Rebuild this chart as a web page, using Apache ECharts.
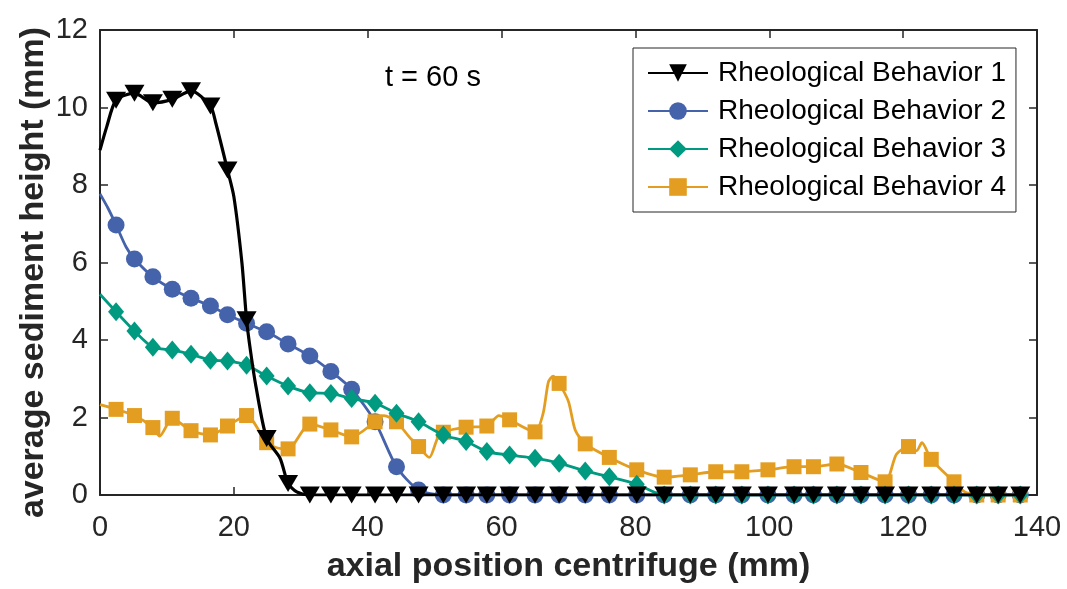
<!DOCTYPE html>
<html>
<head>
<meta charset="utf-8">
<title>Sediment height t = 60 s</title>
<script src="https://cdn.jsdelivr.net/npm/echarts@6/dist/echarts.min.js"></script>
<style>
  html, body { margin: 0; padding: 0; background: #fff; }
  #chart { width: 1067px; height: 589px; }
</style>
</head>
<body>
<div id="chart"></div>
<script>
// axial positions (mm) where the markers sit, shared by all four curves
const xGrid = [2.4, 5.15, 7.9, 10.8, 13.6, 16.5, 19.05, 21.9, 24.9, 28.1, 31.35, 34.5, 37.6, 41.1,
  44.3, 47.6, 51.3, 54.7, 57.8, 61.2, 65.0, 68.6, 72.5, 76.1, 80.2, 84.3, 88.2, 92.0, 95.9, 99.8,
  103.7, 106.6, 110.1, 113.7, 117.3, 120.8, 124.2, 127.6, 131.0, 134.2, 137.5]

const seriesNames = ['Rheological Behavior 1', 'Rheological Behavior 2', 'Rheological Behavior 3', 'Rheological Behavior 4']

// sediment height (mm) at the markers
const b1 = [10.19, 10.37, 10.12, 10.21, 10.43, 10.04, 8.39, 4.52, 1.46, 0.30,
  0, 0, 0, 0, 0, 0, 0, 0, 0, 0, 0, 0, 0, 0, 0, 0, 0, 0, 0, 0, 0, 0, 0, 0, 0, 0, 0, 0, 0, 0, 0]
const b2 = [6.97, 6.09, 5.63, 5.31, 5.08, 4.88, 4.65, 4.43, 4.21, 3.90, 3.59, 3.19, 2.73, 1.89, 0.73, 0.13,
  0, 0, 0, 0, 0, 0, 0, 0, 0, 0, 0, 0, 0, 0, 0, 0, 0, 0, 0, 0, 0, 0, 0, 0, 0]
const b3 = [4.73, 4.23, 3.81, 3.74, 3.63, 3.48, 3.46, 3.35, 3.07, 2.81, 2.64, 2.62, 2.49, 2.37, 2.11, 1.89,
  1.55, 1.38, 1.12, 1.03, 0.95, 0.82, 0.62, 0.47, 0.28,
  0, 0, 0, 0, 0, 0, 0, 0, 0, 0, 0, 0, 0, 0, 0, 0]
const b4 = [2.21, 2.05, 1.74, 1.98, 1.66, 1.55, 1.78, 2.05, 1.35, 1.19, 1.83, 1.68, 1.50, 1.89, 1.89, 1.25,
  1.62, 1.75, 1.78, 1.94, 1.63, 2.88, 1.32, 0.97, 0.65, 0.46, 0.52, 0.60, 0.60, 0.65, 0.73, 0.73,
  0.80, 0.58, 0.34, 1.25, 0.92, 0.34, 0, 0, 0]

// curve points between the markers (no marker drawn)
const b1Extra = [[0, 8.9], [1.0, 9.5], [17.3, 9.6], [20.0, 7.7], [21.2, 6.0], [22.5, 3.7], [23.3, 2.8], [26.9, 0.95], [29.4, 0.08]]
const b2Extra = [[0, 7.77], [1.2, 7.4], [3.9, 6.4]]
const b3Extra = [[0, 5.18]]
const b4Extra = [[0, 2.33], [8.9, 1.52], [26.4, 1.22], [42.4, 2.05], [46.2, 1.5], [49.2, 0.97], [50.4, 1.45],
  [59.6, 2.05], [66.2, 2.1], [67.0, 2.92], [67.7, 3.07], [70.0, 2.41], [71.0, 1.68],
  [119.0, 1.05], [122.0, 1.14], [122.8, 1.35], [129.2, 0.08]]

const FONT = '"Liberation Sans", Arial, Helvetica, sans-serif'
const AXIS_COLOR = '#262626'

// merge marker points and in-between points into one sorted list
const buildData = (marks, extra) => {
  const pts = xGrid.map((x, i) => ({ value: [x, marks[i]] }))
  extra.forEach(p => pts.push({ value: p, symbol: 'none' }))
  pts.sort((a, b) => a.value[0] - b.value[0])
  return pts
}

const makeSeries = (idx, marks, extra, color, symbol, size, z, extraOpts) => ({
  name: seriesNames[idx],
  type: 'line',
  data: buildData(marks, extra),
  smooth: 0.25,
  symbol: symbol,
  symbolSize: size,
  showSymbol: true,
  lineStyle: { color: color, width: 2.8 },
  itemStyle: { color: color },
  z: z,
  ...extraOpts,
})

const frameAxis = (extra) => ({
  type: 'value',
  splitLine: { show: false },
  axisLine: { show: true, onZero: false, lineStyle: { color: AXIS_COLOR, width: 2 } },
  axisTick: { show: true, inside: true, length: 8, lineStyle: { color: AXIS_COLOR, width: 1.5 } },
  ...extra,
})

const chart = echarts.init(document.getElementById('chart'), null, { renderer: 'canvas' })

const option = {
  animation: false,
  backgroundColor: '#fff',
  grid: { left: 100, right: 30, top: 30, bottom: 94 },
  xAxis: [
    frameAxis({
      min: 0, max: 140, interval: 20,
      name: 'axial position centrifuge (mm)',
      nameLocation: 'middle',
      nameGap: 55,
      nameMoveOverlap: false,
      nameTextStyle: { fontSize: 34, fontWeight: 'bold', color: AXIS_COLOR, fontFamily: FONT },
      axisLabel: { fontSize: 29, color: AXIS_COLOR, margin: 18, fontFamily: FONT },
    }),
    frameAxis({ position: 'top', min: 0, max: 140, interval: 20, axisLabel: { show: false } }),
  ],
  yAxis: [
    frameAxis({
      min: 0, max: 12, interval: 2,
      name: 'average sediment height (mm)',
      nameLocation: 'middle',
      nameGap: 49,
      nameMoveOverlap: false,
      nameTextStyle: {
        fontSize: 34, fontWeight: 'bold', color: AXIS_COLOR, fontFamily: FONT,
        padding: [0, 20, 0, 0],
      },
      axisLabel: { fontSize: 29, color: AXIS_COLOR, margin: 12, fontFamily: FONT },
    }),
    frameAxis({ position: 'right', min: 0, max: 12, interval: 2, axisLabel: { show: false } }),
  ],
  legend: {
    orient: 'vertical',
    left: 633,
    top: 48,
    itemWidth: 60,
    itemHeight: 22,
    itemGap: 10,
    padding: [11, 10, 11, 14],
    borderColor: AXIS_COLOR,
    borderWidth: 1,
    backgroundColor: '#fff',
    textStyle: { fontSize: 28, lineHeight: 28, color: '#000', fontFamily: FONT, padding: [0, 0, 0, 5] },
    data: seriesNames,
  },
  graphic: [
    {
      type: 'text',
      left: 385,
      top: 63,
      style: { text: 't = 60 s', fontSize: 29, fill: '#000', fontFamily: FONT },
    },
  ],
  series: [
    makeSeries(0, b1, b1Extra, '#000000', 'triangle', [20, 17], 5,
      { symbolRotate: 180, lineStyle: { color: '#000000', width: 3.2 } }),
    makeSeries(1, b2, b2Extra, '#4563ab', 'circle', 17, 2, {}),
    makeSeries(2, b3, b3Extra, '#009a80', 'diamond', [16, 19], 4, {}),
    makeSeries(3, b4, b4Extra, '#e39e21', 'rect', 15, 3, {}),
  ],
}

chart.setOption(option)

window.addEventListener('resize', () => {
  chart.resize()
})
</script>
</body>
</html>
